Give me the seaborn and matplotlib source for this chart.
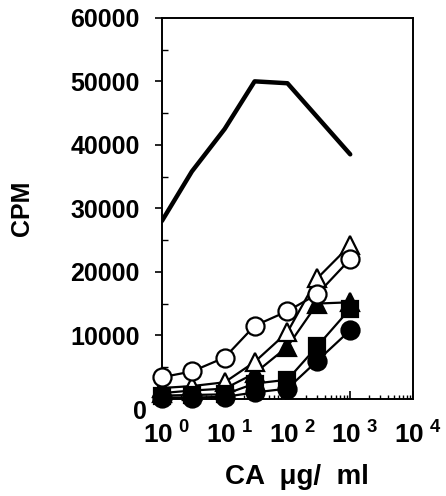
import matplotlib
matplotlib.use("Agg")
import matplotlib.pyplot as plt
import matplotlib.transforms as mtransforms
import seaborn as sns
import numpy as np
import pandas as pd
from matplotlib.ticker import LogLocator, NullFormatter, MultipleLocator

# ---- data ----
conc = [1, 3, 10, 30, 100, 300, 1000]
open_circle = [3400, 4300, 6500, 11500, 13800, 16500, 22000]
open_triangle = [1700, 2000, 2600, 5800, 10500, 19000, 24200]
filled_triangle = [900, 1300, 1600, 4000, 8200, 15000, 15200]
filled_square = [500, 600, 700, 2400, 3000, 8300, 14200]
filled_circle = [200, 200, 300, 1000, 1600, 6000, 10800]
line_conc = [1, 3, 10, 30, 100, 1000]
line_cpm = [28000, 35800, 42500, 50000, 49700, 38500]

y_ticks = [0, 10000, 20000, 30000, 40000, 50000, 60000]
x_ticks = [1, 10, 100, 1000, 10000]
x_tick_labels = [r"$\mathbf{10^{\ 0}}$", r"$\mathbf{10^{\ 1}}$", r"$\mathbf{10^{\ 2}}$",
                 r"$\mathbf{10^{\ 3}}$", r"$\mathbf{10^{\ 4}}$"]

sns.set_style("white")
plt.rcParams["font.family"] = ["Liberation Sans", "DejaVu Sans"]
plt.rcParams["font.weight"] = "bold"
plt.rcParams["mathtext.fontset"] = "custom"
plt.rcParams["mathtext.bf"] = "Liberation Sans:bold"
plt.rcParams["mathtext.rm"] = "Liberation Sans:bold"
for k in ["text.color", "axes.labelcolor", "xtick.color", "ytick.color"]:
    plt.rcParams[k] = "black"

fig = plt.figure(figsize=(4.46, 4.96), dpi=100)
ax = fig.add_axes([0.363, 0.196, 0.563, 0.768])

series = [
    ("filled_triangle", filled_triangle, "^", "black"),
    ("open_triangle", open_triangle, "^", "white"),
    ("filled_square", filled_square, "s", "black"),
    ("filled_circle", filled_circle, "o", "black"),
    ("open_circle", open_circle, "o", "white"),
]
for name, vals, mk, fc in series:
    df = pd.DataFrame({"conc": conc, "cpm": vals})
    sns.lineplot(data=df, x="conc", y="cpm", ax=ax, color="black", linewidth=1.6,
                 marker=mk, markersize=13 if mk != "s" else 12,
                 markerfacecolor=fc, markeredgecolor="black", markeredgewidth=1.6,
                 zorder=3, clip_on=False)

dfl = pd.DataFrame({"conc": line_conc, "cpm": line_cpm})
sns.lineplot(data=dfl, x="conc", y="cpm", ax=ax, color="black", linewidth=3.2, zorder=2)

ax.set_xscale("log")
ax.set_xlim(1, 10000)
ax.set_ylim(0, 60000)

ax.set_xticks(x_ticks)
ax.set_xticklabels(x_tick_labels, fontsize=19)
ax.xaxis.set_minor_locator(LogLocator(base=10, subs=np.arange(2, 10)))
ax.xaxis.set_minor_formatter(NullFormatter())
ax.tick_params(axis="x", which="major", direction="in", length=6, width=1.2, pad=12, bottom=True)
ax.tick_params(axis="x", which="minor", direction="in", length=3, width=1, bottom=True)
for lbl in ax.get_xticklabels():
    lbl.set_transform(lbl.get_transform() +
                      mtransforms.ScaledTranslation(3.5 / 72, -4 / 72, fig.dpi_scale_trans))

ax.set_yticks(y_ticks)
ax.set_yticklabels([str(v) for v in y_ticks], fontsize=18, fontweight="bold")
ax.yaxis.set_minor_locator(MultipleLocator(5000))
ax.tick_params(axis="y", which="major", direction="out", length=5, width=1.2, pad=11, left=True)
ax.tick_params(axis="y", which="minor", direction="in", length=4, width=1, left=True)

# the "0" label sits slightly lower and closer to the axis
zero_lbl = ax.get_yticklabels()[0]
zero_lbl.set_transform(zero_lbl.get_transform() +
                       mtransforms.ScaledTranslation(5 / 72, -8 / 72, fig.dpi_scale_trans))

for s in ax.spines.values():
    s.set_color("black")
    s.set_linewidth(1.4)

ax.set_xlabel("CA  \u03bcg/  ml", fontsize=20, fontweight="bold")
ax.xaxis.set_label_coords(0.538, -0.172)
ax.set_ylabel("CPM", fontsize=18, fontweight="bold", labelpad=26)
if ax.legend_:
    ax.legend_.remove()

fig.savefig("out.png", dpi=100)
